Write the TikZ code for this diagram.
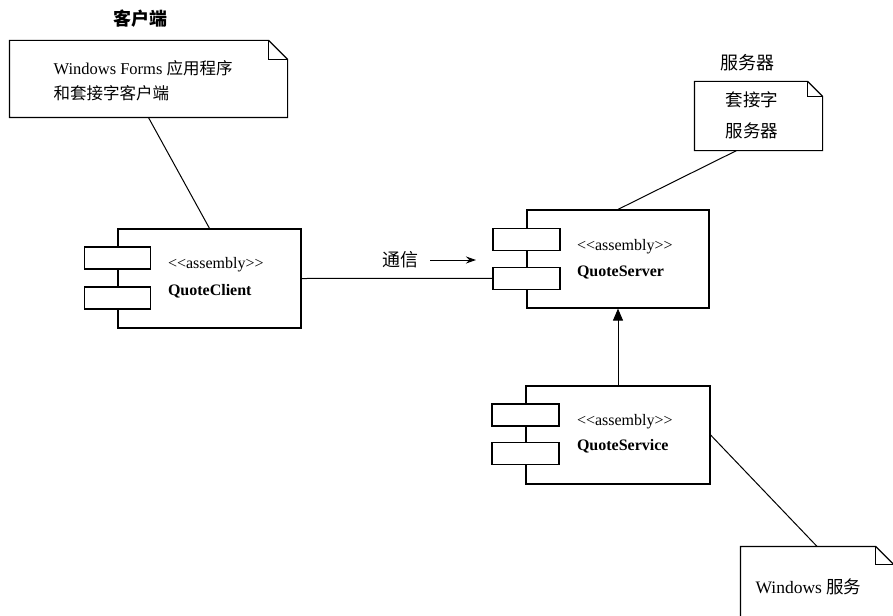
\documentclass[tikz,border=0pt]{standalone}
\usepackage{fontspec}
\setmainfont{Liberation Serif}
\newfontfamily\cjk{Noto Sans CJK SC}
\usetikzlibrary{arrows.meta,calc}
% Chinese text run
\newcommand\zh[1]{{\cjk #1}}
% UML stereotype with guillemet-style angle brackets
\newcommand\stereotype[1]{<\kern0pt<#1>\kern0pt>}
% dog-eared note outline around a named node
\newcommand\dognote[2]{%
  \draw (#1.north west) -- ([xshift=-#2]#1.north east)
        -- ([yshift=-#2]#1.north east) -- (#1.south east)
        -- (#1.south west) -- cycle;
  \draw ([xshift=-#2]#1.north east) |- ([yshift=-#2]#1.north east);}
\begin{document}
\begin{tikzpicture}[x=1pt,y=-1pt,line width=1.2pt,
  comp/.style={draw,rectangle,inner sep=0pt},
  port/.style={draw,fill=white,rectangle,inner sep=0pt,
    minimum width=67pt,minimum height=22pt},
  notearea/.style={rectangle,inner sep=0pt},
  stereo/.style={anchor=west,inner sep=0pt,font=\fontsize{16}{18}\selectfont},
  cname/.style={anchor=west,inner sep=0pt,font=\fontsize{16}{18}\selectfont\bfseries},
  notetext/.style={inner sep=0pt,font=\fontsize{16.5}{25}\selectfont},
  title/.style={inner sep=0pt,font=\fontsize{18}{20}\selectfont},
  link/.style={line width=1pt}]
\useasboundingbox (0,0) rectangle (893,615);
\fill[white] (0,0) rectangle (893,615);
\clip (0,0) rectangle (893,615);

% ---- notes ----
\node[title] (ctitle) at (140,19) {\zh{\bfseries 客户端}};
\node[notearea,minimum width=277pt,minimum height=76pt] (cnote) at (148.5,79) {};
\dognote{cnote}{19pt}
\node[notetext,anchor=west,align=left] (ctext) at (53,80.5)
  {Windows Forms \zh{应用程序}\\\zh{和套接字客户端}};

\node[title] (stitle) at (747,63) {\zh{服务器}};
\node[notearea,minimum width=127pt,minimum height=68pt] (snote) at (758.5,116) {};
\dognote{snote}{15pt}
\node[notetext,align=center,font=\fontsize{17.5}{31}\selectfont] (stext) at (752,115.5)
  {\zh{套接字}\\\zh{服务器}};

\node[notearea,minimum width=152pt,minimum height=100pt] (wnote) at (817,597) {};
\dognote{wnote}{18pt}
\node[notetext,anchor=west,font=\fontsize{17.5}{20}\selectfont] (wtext) at (755,587) {Windows \zh{服务}};

% ---- components ----
\node[comp,minimum width=183pt,minimum height=99pt] (client) at (209.5,278.5) {};
\node[comp,minimum width=182pt,minimum height=98pt] (server) at (618,259) {};
\node[comp,minimum width=184pt,minimum height=98pt] (service) at (618,435) {};

\node[port,minimum width=66pt] (cp1) at ([yshift=-29.5pt]client.north west) {};
\node[port,minimum width=66pt] (cp2) at ([yshift=-69.5pt]client.north west) {};
\node[port] (sp1) at ([yshift=-30pt]server.north west) {};
\node[port] (sp2) at ([yshift=-69pt]server.north west) {};
\node[port] (vp1) at ([yshift=-29.5pt]service.north west) {};
\node[port] (vp2) at ([yshift=-68pt]service.north west) {};

\node[stereo] (cst) at ([xshift=50pt,yshift=-36pt]client.north west) {\stereotype{assembly}};
\node[cname] (cnm) at ([xshift=50pt,yshift=-63pt]client.north west) {QuoteClient};
\node[stereo] (sst) at ([xshift=50pt,yshift=-37pt]server.north west) {\stereotype{assembly}};
\node[cname] (snm) at ([xshift=50pt,yshift=-63pt]server.north west) {QuoteServer};
\node[stereo] (vst) at ([xshift=51pt,yshift=-36pt]service.north west) {\stereotype{assembly}};
\node[cname] (vnm) at ([xshift=51pt,yshift=-61pt]service.north west) {QuoteService};

% ---- connectors ----
\draw[link] (cnote.south) -- (client.north);
\draw[link] ([xshift=-22pt]snote.south) -- (server.north);
\draw[link] (service.east) -- (wnote.north);
\draw[link] (client.east) -- (sp2.west);
\draw[link,-{Triangle[length=12pt,width=10pt]}] (service.north) -- (server.south);

% label of the communication link
\node[title] (comm) at (400,260) {\zh{通信}};
\coordinate (ca) at (430,260);
\coordinate (cb) at (476,260);
\draw[link,-{Stealth[length=10pt,width=7pt]}] (ca) -- (cb);
\end{tikzpicture}
\end{document}
